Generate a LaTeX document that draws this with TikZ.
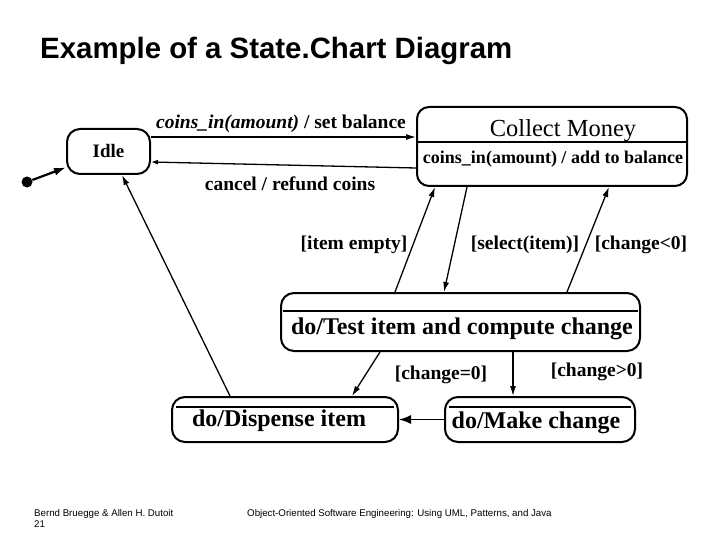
\documentclass[tikz,border=0pt]{standalone}
\usepackage{fontspec}
\setmainfont{Liberation Serif}
\newfontfamily\arialfont{Liberation Sans}
\usetikzlibrary{arrows.meta,calc}
\newcommand{\fsz}[1]{\fontsize{#1}{#1}\selectfont}
\tikzset{
  state/.style={draw, line width=2pt, rounded corners=13pt, inner sep=0pt},
  divider/.style={line width=1.6pt},
  tr/.style={line width=1.3pt, -{Latex[length=10pt,width=6pt]}},
  lbl/.style={inner sep=0pt, font=\fsz{19.5}\bfseries},
  dotext/.style={inner sep=0pt, font=\fsz{24}\bfseries},
  foot/.style={inner sep=0pt, anchor=west, font=\arialfont\fsz{9.7}}
}

\begin{document}
\begin{tikzpicture}[x=1pt,y=-1pt]
\useasboundingbox (0,0) rectangle (720,540);

\node[inner sep=0pt, anchor=west, font=\arialfont\fsz{29.4}\bfseries] (title) at (40,51) {Example of a State.Chart Diagram};

\node[state, minimum width=83pt, minimum height=45pt] (idle) at (108.5,151.5) {};
\node[lbl, font=\fsz{19}\bfseries] (idletxt) at (idle) {Idle};

\node[state, rounded corners=12pt, minimum width=270pt, minimum height=79pt] (cm) at (552,146.5) {};
\draw[divider] ([yshift=-36pt]cm.north west) -- ([yshift=-36pt]cm.north east);
\node[inner sep=0pt, font=\fsz{24.5}] (cmtxt) at (563,131) {Collect Money};
\node[lbl, font=\fsz{18}\bfseries] (cmact) at (553,159) {coins\_in(amount) / add to balance};

\node[state, minimum width=359pt, minimum height=58pt] (test) at (460.5,322) {};
\draw[divider] ([yshift=-19pt,xshift=3pt]test.north west) -- ([yshift=-19pt,xshift=-3pt]test.north east);
\node[dotext] (testtxt) at (462,329) {do/Test item and compute change};

\node[state, minimum width=226pt, minimum height=45pt] (disp) at (285,419.5) {};
\draw[divider] ([yshift=-11pt,xshift=5pt]disp.north west) -- ([yshift=-11pt,xshift=-5pt]disp.north east);
\node[dotext] (disptxt) at (279,421) {do/Dispense item};

\node[state, minimum width=190pt, minimum height=45pt] (make) at (540,419.5) {};
\draw[divider] ([yshift=-11pt,xshift=5pt]make.north west) -- ([yshift=-11pt,xshift=-5pt]make.north east);
\node[dotext] (maketxt) at (536,423) {do/Make change};

\node[circle, fill, minimum size=11pt, inner sep=0pt] (init) at (27,182) {};
\draw[line width=2.2pt, -{Latex[length=12pt,width=8pt]}] (init) -- (idle);

\draw[tr] ([yshift=14.5pt]idle.east) -- ([yshift=14.5pt]idle.east -| cm.west);
\draw[tr, -{Latex[length=7pt,width=5pt]}] ([yshift=-21.5pt]cm.west) -- ([yshift=-10.5pt]idle.east);
\draw[tr] ([xshift=-55pt]disp.north) -- ([xshift=13.5pt]idle.south);
\draw[tr] ([xshift=-65.5pt]test.north) -- ([xshift=-117pt]cm.south);
\draw[tr] ([xshift=-85pt]cm.south) -- ([xshift=-16.5pt]test.north);
\draw[tr] ([xshift=106.5pt]test.north) -- ([xshift=57pt]cm.south);
\draw[tr] ([xshift=-80.5pt]test.south) -- ([xshift=67pt]disp.north);
\draw[tr] ([xshift=52.5pt]test.south) -- ([xshift=-27pt]make.north);
\draw[tr, -{Latex[length=12pt,width=9pt]}] (make.west) -- (disp.east);

\node[lbl] (l1) at (281,124) {{\itshape coins\_in(amount)} / set balance};
\node[lbl] (l2) at (290,184) {cancel / refund coins};
\node[lbl] (l3) at (354,245) {[item empty]};
\node[lbl] (l4) at (525,245) {[select(item)]};
\node[lbl] (l5) at (641,245) {[change<0]};
\node[lbl] (l6) at (441,375) {[change=0]};
\node[lbl] (l7) at (597,372) {[change>0]};

\node[foot] (f1) at (34,514) {Bernd Bruegge \& Allen H. Dutoit};
\node[foot] (f2) at (34,524) {21};
\node[foot] (f3) at (247,514) {Object-Oriented Software Engineering: Using UML, Patterns, and Java};
\end{tikzpicture}
\end{document}
